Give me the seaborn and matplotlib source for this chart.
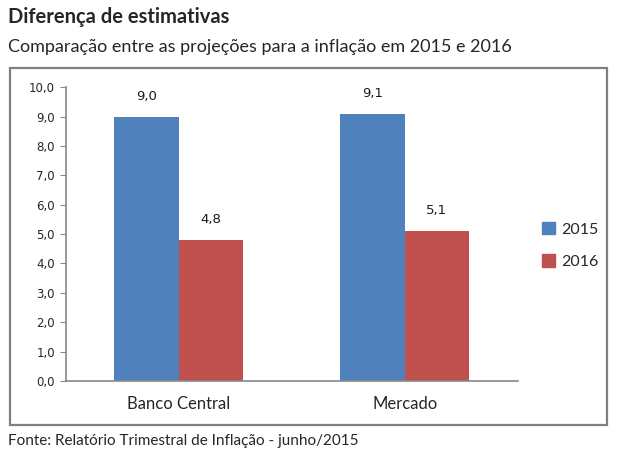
import matplotlib
matplotlib.use("Agg")
import matplotlib.pyplot as plt
import matplotlib.patches as mpatches
import seaborn as sns
import pandas as pd

# dados
grupos = ["Banco Central", "Mercado"]
anos = ["2015", "2016"]
valores_2015 = [9.0, 9.1]
valores_2016 = [4.8, 5.1]

df = pd.DataFrame({
    "grupo": grupos * 2,
    "ano": [anos[0]] * 2 + [anos[1]] * 2,
    "valor": valores_2015 + valores_2016,
})

sns.set_style("white")
plt.rcParams["font.family"] = ["DejaVu Sans"]

fig = plt.figure(figsize=(6.4, 4.59), dpi=100)

# moldura do gráfico
moldura = mpatches.Rectangle((0.016, 0.074), 0.933, 0.778, transform=fig.transFigure,
                             fill=False, edgecolor="#7f7f7f", linewidth=1.6)
fig.patches.append(moldura)

ax = fig.add_axes([0.103, 0.170, 0.706, 0.640])
cores = {"2015": "#4F81BD", "2016": "#C0504D"}
sns.barplot(data=df, x="grupo", y="valor", hue="ano", palette=cores,
            width=0.57, saturation=1, linewidth=0, ax=ax, legend=False)

for cont in ax.containers:
    ax.bar_label(cont, labels=[f"{v:.1f}".replace(".", ",") for v in cont.datavalues],
                 padding=10, fontsize=9.5, color="#1a1a1a")

ax.set_ylim(0, 10)
ax.set_yticks(range(0, 11))
ax.set_yticklabels([f"{v:.1f}".replace(".", ",") for v in range(0, 11)], fontsize=8.5)
ax.set_xlim(-0.5, 1.5)
ax.set_xticks([0, 1])
ax.set_xticklabels(grupos, fontsize=12, family="Lato")
ax.set_xticks([-0.5, 0.5, 1.5], minor=True)
ax.tick_params(axis="x", which="major", length=0, pad=11)
ax.tick_params(axis="x", which="minor", length=4, color="#888888", direction="in")
ax.tick_params(axis="y", length=4, color="#888888", direction="out", left=True, pad=4)
ax.set_xlabel("")
ax.set_ylabel("")
for lado in ["top", "right"]:
    ax.spines[lado].set_visible(False)
for lado in ["left", "bottom"]:
    ax.spines[lado].set_color("#888888")
    ax.spines[lado].set_linewidth(1.2)

handles = [mpatches.Patch(color=cores[a], label=a) for a in anos]
fig.legend(handles=handles, loc="center left", bbox_to_anchor=(0.825, 0.465),
           frameon=False, handlelength=0.8, handleheight=0.8,
           labelspacing=1.1, handletextpad=0.4, prop={"family": "Lato", "size": 11.5})

fig.text(0.012, 0.962, "Diferença de estimativas", fontsize=14.5, fontweight="bold",
         family="Lato", va="center")
fig.text(0.012, 0.898, "Comparação entre as projeções para a inflação em 2015 e 2016",
         fontsize=13, family="Lato", va="center")
fig.text(0.012, 0.040, "Fonte: Relatório Trimestral de Inflação - junho/2015",
         fontsize=11, family="Lato", va="center")

fig.savefig("out.png", dpi=100)
